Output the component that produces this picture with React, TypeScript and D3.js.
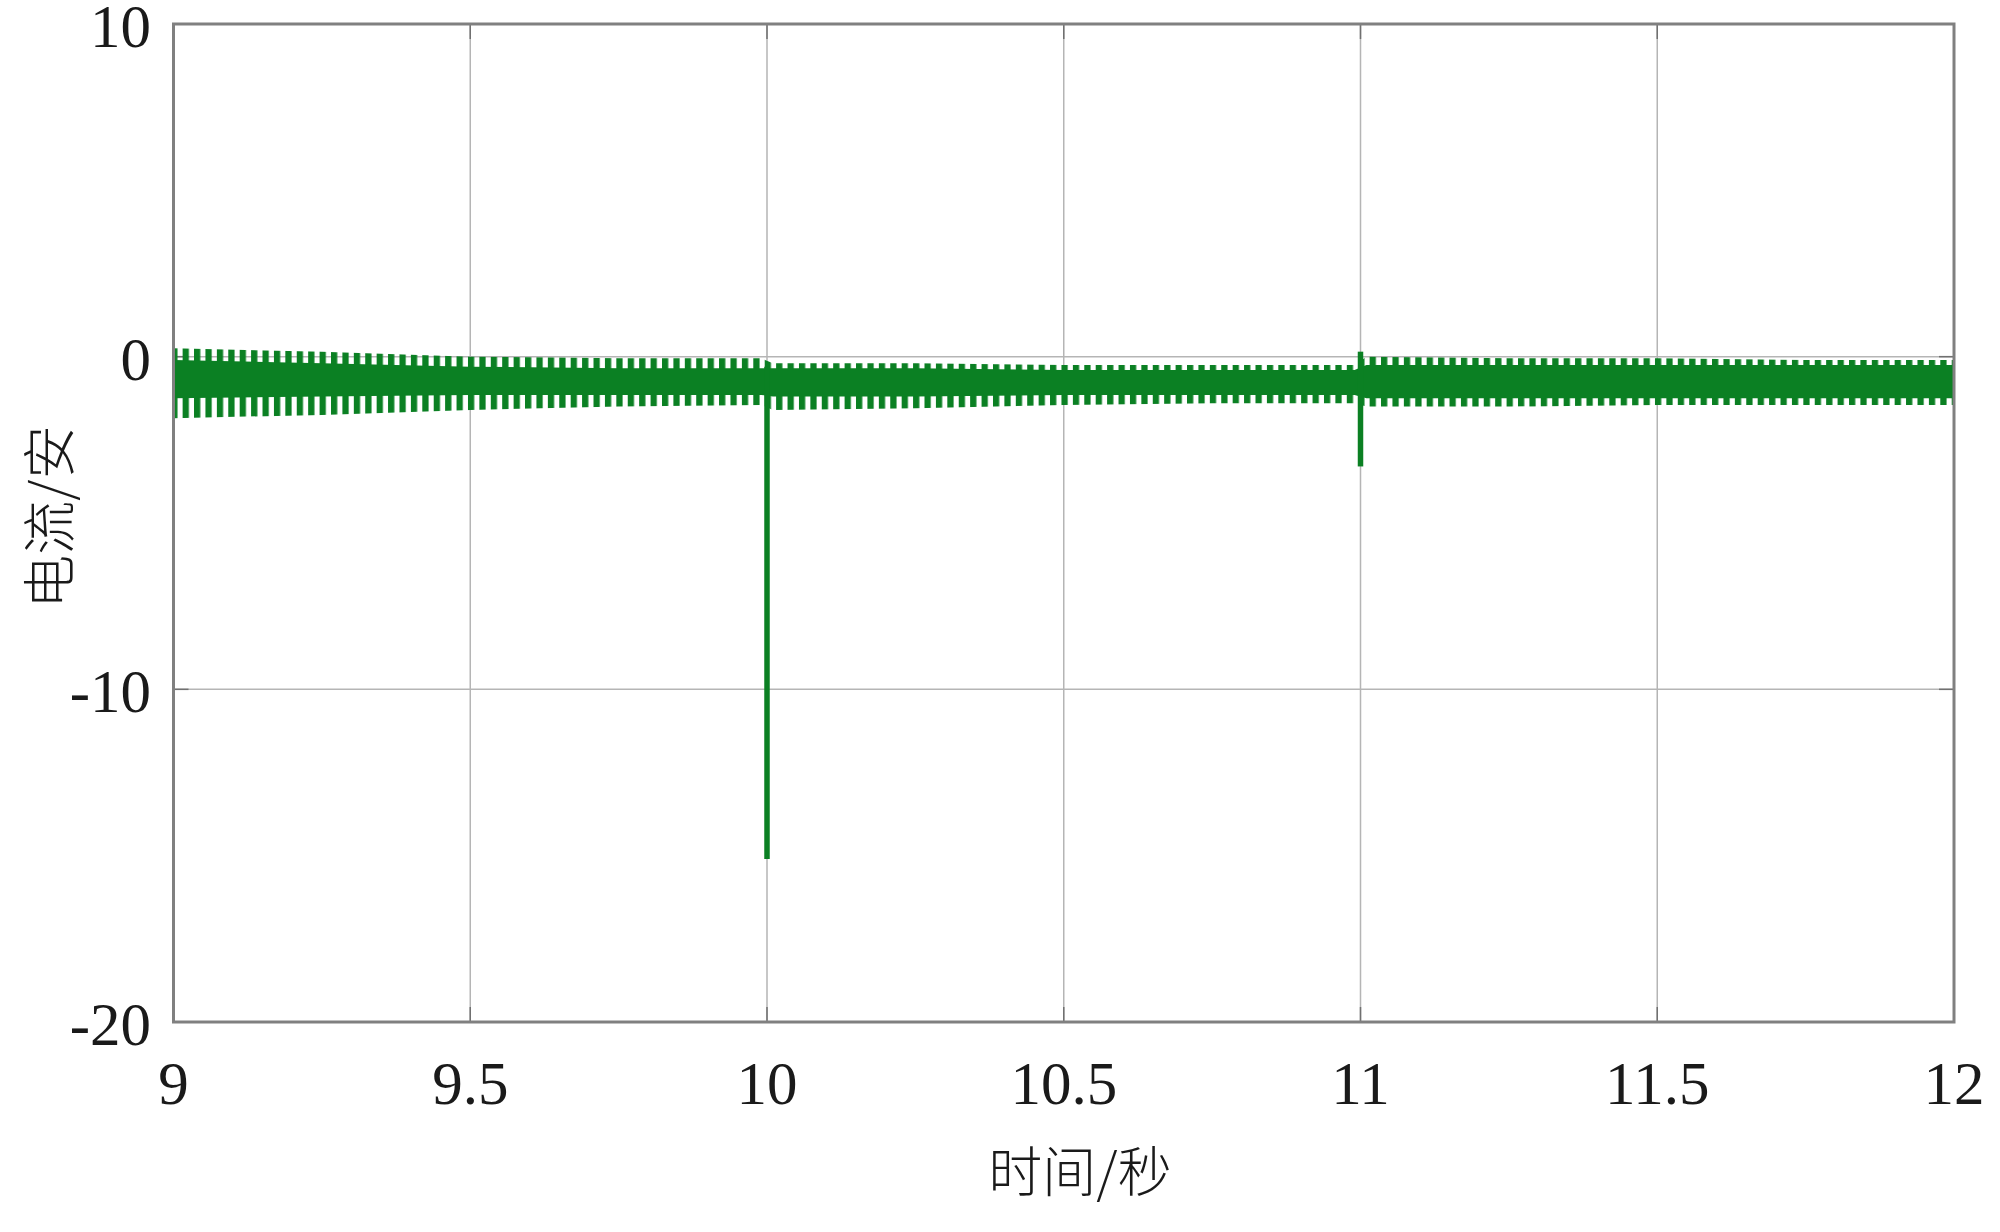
import React from 'react';
import * as d3 from 'd3';

// envelope of the current trace
const times = [9.0, 9.25, 9.5, 9.75, 9.99, 10.01, 10.25, 10.5, 10.75, 10.99, 11.01, 11.25, 11.5, 11.75, 12.0];
const outerMax = [0.25, 0.15, 0.0, -0.05, -0.05, -0.2, -0.2, -0.25, -0.25, -0.25, 0.0, -0.05, -0.05, -0.1, -0.1];
const outerMin = [-1.85, -1.75, -1.6, -1.5, -1.45, -1.6, -1.55, -1.45, -1.4, -1.4, -1.5, -1.5, -1.45, -1.45, -1.45];
const coreMax = [-0.1, -0.2, -0.3, -0.35, -0.35, -0.35, -0.35, -0.4, -0.4, -0.4, -0.25, -0.25, -0.25, -0.25, -0.25];
const coreMin = [-1.25, -1.2, -1.15, -1.15, -1.15, -1.2, -1.2, -1.15, -1.15, -1.15, -1.25, -1.25, -1.25, -1.25, -1.25];

// transients
const spikeTimes = [10, 11];
const spikeMins = [-15.1, -3.3];
const spikeMaxs = [-0.3, 0.15];

const xTicks = [9, 9.5, 10, 10.5, 11, 11.5, 12];
const yTicks = [10, 0, -10, -20];

const W = 2000;
const H = 1232;
const left = 173.5, right = 1954, top = 24, bottom = 1022;
const green = '#0b8023';

export default function App() {
  const x = d3.scaleLinear().domain([9, 12]).range([left, right]);
  const y = d3.scaleLinear().domain([-20, 10]).range([bottom, top]);

  const rows = times.map((t, i) => ({ t, oMax: outerMax[i], oMin: outerMin[i], cMax: coreMax[i], cMin: coreMin[i] }));

  const outerArea = d3.area<any>()
    .x(d => x(d.t))
    .y0(d => y(d.oMin))
    .y1(d => y(d.oMax));
  const coreArea = d3.area<any>()
    .x(d => x(d.t))
    .y0(d => y(d.cMin))
    .y1(d => y(d.cMax));

  // teeth at the mains frequency, about 50 per second
  const period = (x(10) - x(9)) / 52;

  return (
    <svg width={W} height={H} style={{ position: 'absolute', left: 0, top: 0, background: '#fff' }}>
      <defs>
        <pattern id="teeth" patternUnits="userSpaceOnUse" width={period} height={20}>
          <rect x={0} y={0} width={period * 0.55} height={20} fill={green} />
        </pattern>
        <clipPath id="plot">
          <rect x={left} y={top} width={right - left} height={bottom - top} />
        </clipPath>
      </defs>

      {/* grid */}
      {xTicks.slice(1, -1).map(t => (
        <line key={'gx' + t} x1={x(t)} x2={x(t)} y1={top} y2={bottom} stroke="#b5b5b5" strokeWidth={1.5} />
      ))}
      {yTicks.slice(1, -1).map(v => (
        <line key={'gy' + v} x1={left} x2={right} y1={y(v)} y2={y(v)} stroke="#b5b5b5" strokeWidth={1.5} />
      ))}

      {/* inward ticks */}
      {xTicks.map(t => (
        <g key={'tx' + t}>
          <line x1={x(t)} x2={x(t)} y1={bottom} y2={bottom - 15} stroke="#707070" strokeWidth={1.5} />
          <line x1={x(t)} x2={x(t)} y1={top} y2={top + 15} stroke="#707070" strokeWidth={1.5} />
        </g>
      ))}
      {yTicks.map(v => (
        <g key={'ty' + v}>
          <line x1={left} x2={left + 15} y1={y(v)} y2={y(v)} stroke="#707070" strokeWidth={1.5} />
          <line x1={right} x2={right - 15} y1={y(v)} y2={y(v)} stroke="#707070" strokeWidth={1.5} />
        </g>
      ))}

      {/* signal */}
      <g clipPath="url(#plot)">
        <path d={outerArea(rows) || ''} fill="url(#teeth)" />
        <path d={coreArea(rows) || ''} fill={green} />
        {spikeTimes.map((t, i) => (
          <line key={'sp' + t} x1={x(t)} x2={x(t)} y1={y(spikeMaxs[i])} y2={y(spikeMins[i])}
            stroke={green} strokeWidth={5.5} />
        ))}
      </g>

      {/* box */}
      <rect x={left} y={top} width={right - left} height={bottom - top} fill="none" stroke="#808080" strokeWidth={3} />

      {/* tick labels */}
      {xTicks.map(t => (
        <text key={'lx' + t} x={x(t)} y={1104} textAnchor="middle"
          fontFamily="'Liberation Serif', serif" fontSize={61} fill="#1a1a1a">{t}</text>
      ))}
      {yTicks.map(v => (
        <text key={'ly' + v} x={151} y={y(v) + 23} textAnchor="end"
          fontFamily="'Liberation Serif', serif" fontSize={61} fill="#1a1a1a">{v}</text>
      ))}

      {/* axis titles */}
      <text x={1080} y={1192} textAnchor="middle"
        fontFamily="'Noto Sans CJK SC', sans-serif" fontWeight={300} fontSize={54} fill="#1a1a1a">时间/秒</text>
      <text transform={`translate(70, 517) rotate(-90)`} textAnchor="middle"
        fontFamily="'Noto Sans CJK SC', sans-serif" fontWeight={300} fontSize={54} fill="#1a1a1a">电流/安</text>
    </svg>
  );
}
